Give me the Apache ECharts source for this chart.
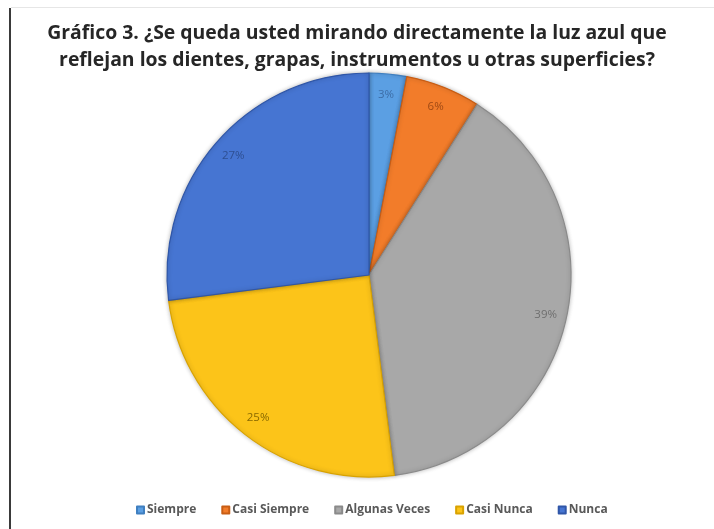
<!DOCTYPE html>
<html>
<head>
<meta charset="utf-8">
<script src="https://cdn.jsdelivr.net/npm/echarts@6/dist/echarts.min.js"></script>
<style>
  html, body { margin: 0; padding: 0; background: #ffffff; }
  #chart { width: 714px; height: 529px; }
</style>
</head>
<body>
<div id="chart"></div>
<script>
// Answer categories and their shares (%)
const categories = ['Siempre', 'Casi Siempre', 'Algunas Veces', 'Casi Nunca', 'Nunca'];
const values = [3, 6, 39, 25, 27];
const sliceColors = ['#5b9fe3', '#f27c2a', '#a8a8a8', '#fcc419', '#4675d2'];
const edgeColors = ['#3f7fc0', '#c85d14', '#8a8a8a', '#d9a200', '#2f56a8'];
const labelColors = ['#3d6ea8', '#a04a14', '#6f6f6f', '#8a6a00', '#2e4f92'];

const chart = echarts.init(document.getElementById('chart'), null, { renderer: 'canvas' });

const pieData = categories.map((name, i) => ({
  name: name,
  value: values[i],
  itemStyle: { color: sliceColors[i], borderColor: edgeColors[i] }
}));

const labelData = categories.map((name, i) => ({
  name: name,
  value: values[i],
  label: { color: labelColors[i] }
}));

chart.setOption({
  backgroundColor: '#ffffff',
  title: {
    text: 'Gráfico 3. ¿Se queda usted mirando directamente la luz azul que\nreflejan los dientes, grapas, instrumentos u otras superficies?',
    left: 'center',
    top: 15,
    textStyle: {
      fontFamily: 'Open Sans',
      fontWeight: 'bold',
      fontSize: 19.4,
      lineHeight: 27,
      color: '#262626',
      align: 'center'
    }
  },
  legend: {
    data: categories,
    bottom: 8,
    left: 131,
    itemWidth: 7,
    itemHeight: 7,
    itemGap: 25,
    icon: 'rect',
    textStyle: {
      fontFamily: 'Open Sans',
      fontWeight: 'bold',
      fontSize: 12,
      color: '#595959',
      padding: [0, 0, 0, -2]
    }
  },
  graphic: [
    {
      type: 'rect',
      shape: { x: 9, y: 8, width: 2, height: 521 },
      style: { fill: '#3a3a3a' },
      silent: true
    },
    {
      type: 'rect',
      shape: { x: 11, y: 7, width: 703, height: 1 },
      style: { fill: '#e6e6e6' },
      silent: true
    }
  ],
  series: [
    {
      type: 'pie',
      name: 'slices',
      center: [369, 275],
      radius: 202,
      startAngle: 90,
      clockwise: true,
      silent: true,
      label: { show: false },
      labelLine: { show: false },
      itemStyle: {
        borderWidth: 1.2,
        shadowBlur: 4,
        shadowColor: 'rgba(0,0,0,0.25)'
      },
      data: pieData
    },
    {
      type: 'pie',
      name: 'labels',
      center: [369, 275],
      radius: [154, 202],
      startAngle: 90,
      clockwise: true,
      silent: true,
      itemStyle: { color: 'rgba(0,0,0,0)' },
      label: {
        show: true,
        position: 'inside',
        formatter: '{c}%',
        fontFamily: 'Open Sans',
        fontSize: 11.5,
        textBorderWidth: 0
      },
      labelLine: { show: false },
      data: labelData
    }
  ]
});
</script>
</body>
</html>
